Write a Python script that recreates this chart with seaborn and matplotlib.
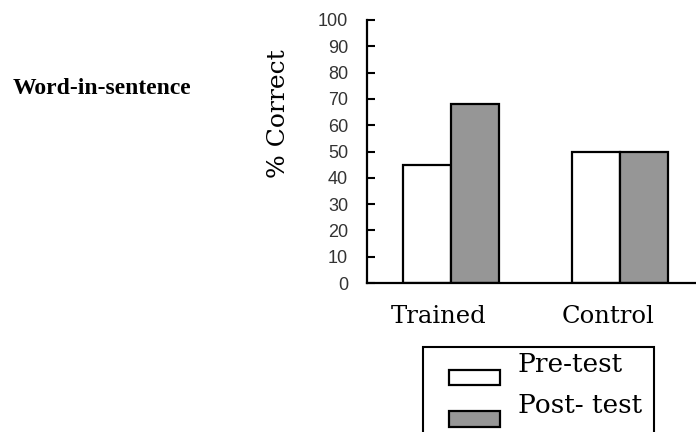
import numpy as np
import pandas as pd
import matplotlib.pyplot as plt
import seaborn as sns
from matplotlib.patches import Rectangle
from matplotlib.legend_handler import HandlerPatch
from matplotlib.transforms import ScaledTranslation

groups = ["Trained", "Trained", "Control", "Control"]
tests = ["Pre-test", "Post- test", "Pre-test", "Post- test"]
scores = [45, 68, 50, 50]
yticks = [0, 10, 20, 30, 40, 50, 60, 70, 80, 90, 100]

sns.set_style("ticks")
plt.rcParams["font.family"] = ["DejaVu Serif"]
plt.rcParams["text.color"] = "black"
plt.rcParams["axes.labelcolor"] = "black"
plt.rcParams["xtick.color"] = "black"
plt.rcParams["ytick.color"] = "black"

df = pd.DataFrame({"group": groups, "test": tests, "score": scores})

fig = plt.figure(figsize=(6.96, 4.32), dpi=100)
ax = fig.add_axes([367 / 696, 1 - 283 / 432, 329 / 696, 263 / 432])

sns.barplot(data=df, x="group", y="score", hue="test",
            palette={"Pre-test": "white", "Post- test": "#969696"},
            edgecolor="black", linewidth=1.6, width=0.57, gap=0,
            saturation=1, ax=ax)

ax.set_xlim(-0.497, 1.45)
ax.set_ylim(0, 100)
ax.set_yticks(yticks)
ax.set_yticklabels([str(v) for v in yticks], family="Liberation Sans",
                   fontsize=13, color="#333333")
ax.tick_params(axis="y", direction="in", length=6, width=1.5, pad=13.5)
ax.tick_params(axis="x", length=0, pad=16, labelsize=17.5)
ax.set_xlabel("")
ax.set_ylabel("% Correct", fontsize=18, va="center")
ax.yaxis.set_label_coords(-0.2675, 0.643)

# category labels sit a bit left of the bar pairs in the original
shift = ScaledTranslation(-12 / 100, 0, fig.dpi_scale_trans)
for lab in ax.get_xticklabels():
    lab.set_transform(lab.get_transform() + shift)

sns.despine(ax=ax)
for s in ["left", "bottom"]:
    ax.spines[s].set_linewidth(1.6)
    ax.spines[s].set_color("black")

fig.text(13 / 696, 1 - 88 / 432, "Word-in-sentence", family="Liberation Serif",
         fontweight="bold", fontsize=17, ha="left", va="center")

# legend: handles sit a little below the text, framed box runs off the bottom
handles, labels = ax.get_legend_handles_labels()
ax.get_legend().remove()


def low_patch(legend, orig_handle, xdescent, ydescent, width, height, fontsize):
    return Rectangle((-xdescent, -0.5 * fontsize), width, 0.58 * fontsize)


leg = fig.legend(handles, labels, loc="upper left",
                 bbox_to_anchor=(449 / 696, 1 - 352 / 432),
                 frameon=False, fontsize=19, borderpad=0, borderaxespad=0,
                 handlelength=1.95, handleheight=0.5, handletextpad=0.65,
                 labelspacing=0.62,
                 handler_map={Rectangle: HandlerPatch(patch_func=low_patch)})

fig.patches.append(Rectangle((423 / 696, -0.05), 231 / 696, 1 - 347 / 432 + 0.05,
                             transform=fig.transFigure, fill=False,
                             edgecolor="black", linewidth=1.5))

fig.savefig("out.png", dpi=100)
